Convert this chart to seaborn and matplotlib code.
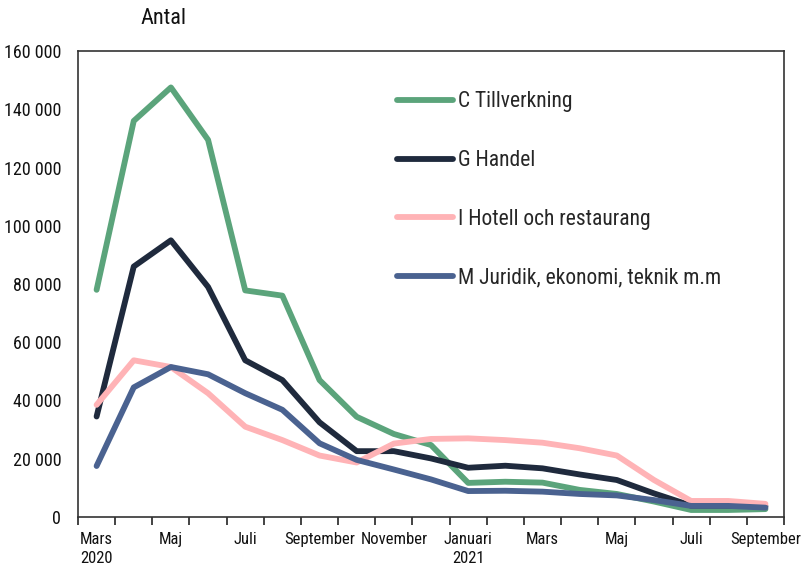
import matplotlib
matplotlib.use("Agg")
import matplotlib.pyplot as plt
from matplotlib.ticker import FixedLocator, FuncFormatter
import numpy as np
import pandas as pd
import seaborn as sns

# Monthly values, Mars 2020 - September 2021
months = ["2020-03", "2020-04", "2020-05", "2020-06", "2020-07", "2020-08", "2020-09",
          "2020-10", "2020-11", "2020-12", "2021-01", "2021-02", "2021-03", "2021-04",
          "2021-05", "2021-06", "2021-07", "2021-08", "2021-09"]
tillverkning = [78000, 136000, 147500, 129500, 77800, 76000, 47000, 34400, 28500, 24700,
                11700, 12100, 11800, 9300, 7900, 5300, 2400, 2400, 2700]
handel = [34500, 86000, 95000, 79000, 53800, 47000, 32500, 22600, 22600, 20100,
          16900, 17600, 16700, 14600, 12700, 8100, 3900, 3900, 3700]
hotell = [38500, 53800, 51500, 42500, 31000, 26400, 21100, 18700, 25200, 26800,
          27000, 26400, 25500, 23600, 21100, 12700, 5500, 5500, 4500]
juridik = [17500, 44500, 51500, 49000, 42500, 36800, 25300, 19600, 16300, 12900,
           8900, 9000, 8700, 7900, 7400, 5800, 3800, 3800, 3200]

series_names = ["C Tillverkning", "G Handel", "I Hotell och restaurang",
                "M Juridik, ekonomi, teknik m.m"]
tick_labels = ["Mars\n2020", "Maj", "Juli", "September", "November", "Januari\n2021",
               "Mars", "Maj", "Juli", "September"]
colors = ["#5ba47b", "#1f2a3d", "#ffb3b6", "#4a6290"]

long = []
for name, vals in zip(series_names, [tillverkning, handel, hotell, juridik]):
    long.append(pd.DataFrame({"idx": np.arange(len(months)), "value": vals, "serie": name}))
long = pd.concat(long, ignore_index=True)

sns.set_style("white")
plt.rcParams["font.family"] = ["Roboto Condensed", "DejaVu Sans"]

fig = plt.figure(figsize=(8.01, 5.72), dpi=100)
ax = fig.add_axes([0.0974, 0.0962, 0.8814, 0.8146])

sns.lineplot(data=long, x="idx", y="value", hue="serie", palette=colors,
             linewidth=4.2, ax=ax, legend=True, solid_capstyle="round")

ax.set_xlim(-0.5, len(months) - 0.5)
ax.set_ylim(0, 160000)
ax.set_xlabel("")
ax.set_ylabel("")

# ticks on category boundaries, labels on every other month
ax.xaxis.set_major_locator(FixedLocator(np.arange(-0.5, len(months), 1.0)))
ax.xaxis.set_major_formatter(FuncFormatter(lambda v, p: ""))
ax.xaxis.set_minor_locator(FixedLocator(np.arange(0, len(months), 2)))
ax.set_xticklabels(tick_labels, minor=True, linespacing=1.3)
ax.tick_params(axis="x", which="major", direction="out", length=6, width=1.2,
               color="#222222", bottom=True)
ax.tick_params(axis="x", which="minor", length=0, labelsize=12, pad=11, colors="#111111")

ax.set_yticks(np.arange(0, 160001, 20000))
ax.yaxis.set_major_formatter(FuncFormatter(lambda v, p: f"{int(v):,}".replace(",", " ")))
ax.tick_params(axis="y", length=0, labelsize=13, pad=12, colors="#111111")

for side in ["left", "bottom", "top", "right"]:
    ax.spines[side].set_visible(True)
    ax.spines[side].set_color("#333333")
    ax.spines[side].set_linewidth(1.2)

leg = ax.legend(loc="upper left", bbox_to_anchor=(0.425, 0.955), frameon=False,
                fontsize=15.5, handlelength=2.6, handletextpad=0.2, labelspacing=1.75)
for line in leg.get_lines():
    line.set_linewidth(4.2)
    line.set_solid_capstyle("round")

fig.text(0.175, 0.968, "Antal", fontsize=16, ha="left", va="center", color="#111111")

fig.savefig("out.png", dpi=100)
